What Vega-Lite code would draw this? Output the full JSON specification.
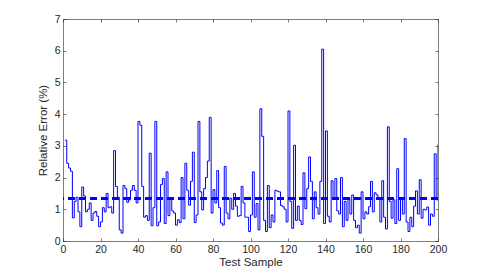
{
  "$schema": "https://vega.github.io/schema/vega-lite/v6.json",
  "width": 375,
  "height": 222,
  "autosize": {"type": "none"},
  "padding": {"left": 63, "top": 19, "right": 47, "bottom": 30},
  "background": "white",
  "config": {
    "view": {"stroke": null},
    "axis": {
      "grid": false,
      "domainColor": "#262626",
      "domainWidth": 0.6,
      "tickColor": "#262626",
      "tickWidth": 0.6,
      "tickSize": -3,
      "labelFont": "Liberation Sans",
      "labelFontSize": 10.5,
      "labelColor": "#262626",
      "titleFont": "Liberation Sans",
      "titleFontSize": 11.5,
      "titleFontWeight": "normal",
      "titleColor": "#262626"
    }
  },
  "datasets": {
    "err": [
      {"s":1,"v":3.18},{"s":2,"v":2.45},{"s":3,"v":2.3},{"s":4,"v":2.2},{"s":5,"v":0.73},
      {"s":6,"v":1.25},{"s":7,"v":1.38},{"s":8,"v":0.92},{"s":9,"v":0.45},{"s":10,"v":1.7},
      {"s":11,"v":1.42},{"s":12,"v":0.92},{"s":13,"v":1.0},{"s":14,"v":1.2},{"s":15,"v":0.65},
      {"s":16,"v":0.88},{"s":17,"v":0.93},{"s":18,"v":0.78},{"s":19,"v":0.45},{"s":20,"v":0.6},
      {"s":21,"v":1.05},{"s":22,"v":0.92},{"s":23,"v":1.5},{"s":24,"v":1.05},{"s":25,"v":1.08},
      {"s":26,"v":0.88},{"s":27,"v":2.85},{"s":28,"v":1.72},{"s":29,"v":1.38},{"s":30,"v":0.35},
      {"s":31,"v":0.25},{"s":32,"v":1.75},{"s":33,"v":1.65},{"s":34,"v":1.22},{"s":35,"v":1.3},
      {"s":36,"v":1.6},{"s":37,"v":1.75},{"s":38,"v":1.6},{"s":39,"v":1.2},{"s":40,"v":3.77},
      {"s":41,"v":3.65},{"s":42,"v":1.72},{"s":43,"v":0.75},{"s":44,"v":0.8},{"s":45,"v":0.65},
      {"s":46,"v":2.77},{"s":47,"v":0.48},{"s":48,"v":1.05},{"s":49,"v":3.77},{"s":50,"v":0.48},
      {"s":51,"v":0.6},{"s":52,"v":1.78},{"s":53,"v":1.97},{"s":54,"v":0.55},{"s":55,"v":2.18},
      {"s":56,"v":0.8},{"s":57,"v":1.33},{"s":58,"v":0.95},{"s":59,"v":0.88},{"s":60,"v":0.5},
      {"s":61,"v":0.67},{"s":62,"v":0.58},{"s":63,"v":2.0},{"s":64,"v":0.7},{"s":65,"v":2.45},
      {"s":66,"v":1.6},{"s":67,"v":1.13},{"s":68,"v":1.88},{"s":69,"v":2.8},{"s":70,"v":0.58},
      {"s":71,"v":0.82},{"s":72,"v":3.77},{"s":73,"v":1.55},{"s":74,"v":0.98},{"s":75,"v":1.65},
      {"s":76,"v":2.0},{"s":77,"v":2.52},{"s":78,"v":3.9},{"s":79,"v":0.88},{"s":80,"v":1.62},
      {"s":81,"v":1.2},{"s":82,"v":2.22},{"s":83,"v":1.05},{"s":84,"v":0.57},{"s":85,"v":0.5},
      {"s":86,"v":2.35},{"s":87,"v":0.88},{"s":88,"v":0.7},{"s":89,"v":1.35},{"s":90,"v":1.0},
      {"s":91,"v":1.5},{"s":92,"v":1.1},{"s":93,"v":0.78},{"s":94,"v":0.8},{"s":95,"v":1.72},
      {"s":96,"v":1.2},{"s":97,"v":0.75},{"s":98,"v":0.75},{"s":99,"v":0.3},{"s":100,"v":0.82},
      {"s":101,"v":2.18},{"s":102,"v":0.75},{"s":103,"v":1.18},{"s":104,"v":0.35},{"s":105,"v":4.17},
      {"s":106,"v":3.3},{"s":107,"v":0.65},{"s":108,"v":0.3},{"s":109,"v":1.75},{"s":110,"v":0.42},
      {"s":111,"v":0.82},{"s":112,"v":0.6},{"s":113,"v":1.6},{"s":114,"v":1.57},{"s":115,"v":1.55},
      {"s":116,"v":1.12},{"s":117,"v":1.08},{"s":118,"v":1.0},{"s":119,"v":0.6},{"s":120,"v":4.1},
      {"s":121,"v":1.25},{"s":122,"v":0.4},{"s":123,"v":3.02},{"s":124,"v":0.65},{"s":125,"v":1.1},
      {"s":126,"v":0.65},{"s":127,"v":0.52},{"s":128,"v":2.15},{"s":129,"v":1.02},{"s":130,"v":1.65},
      {"s":131,"v":2.65},{"s":132,"v":1.88},{"s":133,"v":0.7},{"s":134,"v":1.55},{"s":135,"v":1.05},
      {"s":136,"v":0.85},{"s":137,"v":1.88},{"s":138,"v":6.05},{"s":139,"v":0.55},{"s":140,"v":3.47},
      {"s":141,"v":0.78},{"s":142,"v":0.6},{"s":143,"v":1.9},{"s":144,"v":1.35},{"s":145,"v":1.97},
      {"s":146,"v":0.95},{"s":147,"v":0.85},{"s":148,"v":2.0},{"s":149,"v":0.45},{"s":150,"v":1.25},
      {"s":151,"v":0.65},{"s":152,"v":1.35},{"s":153,"v":0.85},{"s":154,"v":1.45},{"s":155,"v":0.65},
      {"s":156,"v":0.42},{"s":157,"v":0.5},{"s":158,"v":0.25},{"s":159,"v":1.55},{"s":160,"v":0.7},
      {"s":161,"v":0.92},{"s":162,"v":0.85},{"s":163,"v":1.08},{"s":164,"v":1.88},{"s":165,"v":0.92},
      {"s":166,"v":1.52},{"s":167,"v":1.45},{"s":168,"v":1.35},{"s":169,"v":0.6},{"s":170,"v":1.9},
      {"s":171,"v":0.75},{"s":172,"v":0.38},{"s":173,"v":3.6},{"s":174,"v":1.25},{"s":175,"v":0.72},
      {"s":176,"v":1.3},{"s":177,"v":0.55},{"s":178,"v":2.28},{"s":179,"v":0.65},{"s":180,"v":1.35},
      {"s":181,"v":0.85},{"s":182,"v":3.23},{"s":183,"v":0.6},{"s":184,"v":0.3},{"s":185,"v":0.75},
      {"s":186,"v":0.45},{"s":187,"v":1.1},{"s":188,"v":1.58},{"s":189,"v":0.85},{"s":190,"v":1.93},
      {"s":191,"v":0.72},{"s":192,"v":1.0},{"s":193,"v":0.98},{"s":194,"v":1.07},{"s":195,"v":0.5},
      {"s":196,"v":0.85},{"s":197,"v":0.78},{"s":198,"v":2.75},{"s":199,"v":1.3},{"s":200,"v":3.05}
    ]
  },
  "data": {"name": "err"},
  "resolve": {"axis": {"x": "independent", "y": "independent"}},
  "layer": [
    {
      "mark": {"type": "line", "interpolate": "step-after", "color": "#0000ff", "strokeWidth": 1, "clip": true},
      "encoding": {
        "x": {
          "field": "s", "type": "quantitative",
          "scale": {"domain": [0, 200], "nice": false, "zero": false},
          "axis": {"orient": "bottom", "title": "Test Sample", "values": [0,20,40,60,80,100,120,140,160,180,200], "labelPadding": 6, "titlePadding": 2, "labelFlush": false}
        },
        "y": {
          "field": "v", "type": "quantitative",
          "scale": {"domain": [0, 7], "nice": false},
          "axis": {"orient": "left", "title": "Relative Error (%)", "values": [0,1,2,3,4,5,6,7], "labelPadding": 6, "titlePadding": 6, "labelFlush": false}
        }
      }
    },
    {
      "mark": {"type": "rule", "color": "#0000ff", "opacity": 0.55, "strokeWidth": 2, "strokeDash": [7, 4]},
      "encoding": {
        "y": {"datum": 1.33, "type": "quantitative", "axis": null}
      }
    },
    {
      "mark": {"type": "line", "opacity": 0},
      "encoding": {
        "x": {
          "field": "s", "type": "quantitative",
          "axis": {"orient": "top", "title": null, "labels": false, "values": [0,20,40,60,80,100,120,140,160,180,200]}
        },
        "y": {
          "field": "v", "type": "quantitative",
          "axis": {"orient": "right", "title": null, "labels": false, "values": [0,1,2,3,4,5,6,7]}
        }
      }
    }
  ]
}
